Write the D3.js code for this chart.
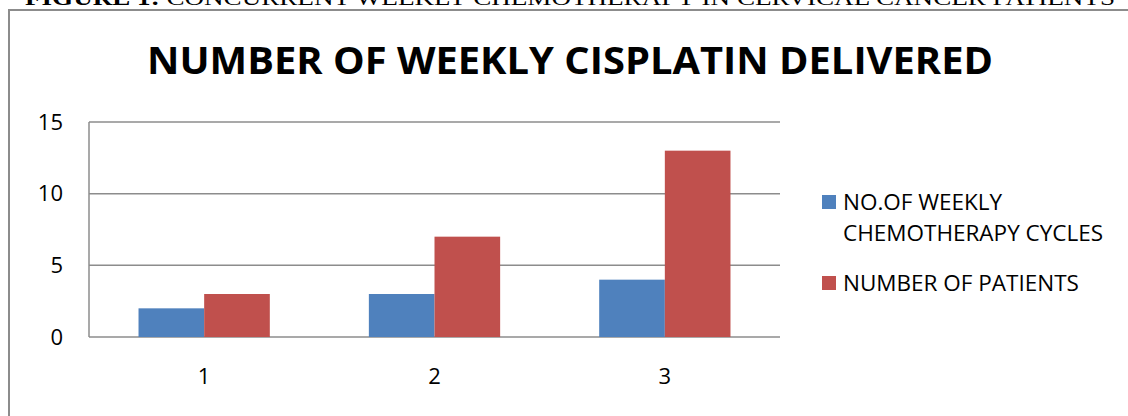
<!DOCTYPE html>
<html>
<head>
<meta charset="utf-8">
<script src="https://cdn.jsdelivr.net/npm/d3@7"></script>
<style>
  body { margin: 0; background: #fff; }
  svg { display: block; }
</style>
</head>
<body>
<div id="chart"></div>
<script>
// data
let categories = ["1", "2", "3"]
let seriesNames = ["NO.OF WEEKLY CHEMOTHERAPY CYCLES", "NUMBER OF PATIENTS"]
let cycles = [2, 3, 4]
let patients = [3, 7, 13]
let yTicks = [0, 5, 10, 15]
let colors = ["#4F81BD", "#C0504D"]

let W = 1128, H = 416
let margin = {top: 122, right: 348, bottom: 79, left: 89}
let width = W - margin.left - margin.right
let height = H - margin.top - margin.bottom

let svg = d3.select("#chart")
    .append("svg")
    .attr("width", W)
    .attr("height", H)

// caption above the frame (cut off at top)
let cap = svg.append("text")
    .attr("x", 25)
    .attr("y", 5)
    .attr("font-family", "Liberation Serif, Times New Roman, serif")
    .attr("font-size", 20)
    .attr("fill", "#000")
    .attr("textLength", 1090)
    .attr("lengthAdjust", "spacingAndGlyphs")
cap.append("tspan").attr("font-weight", "bold").text("FIGURE 1:")
cap.append("tspan").text(" CONCURRENT WEEKLY CHEMOTHERAPY IN CERVICAL CANCER PATIENTS")

// outer frame
svg.append("rect")
    .attr("x", 9)
    .attr("y", 10)
    .attr("width", 1140)
    .attr("height", 420)
    .attr("fill", "none")
    .attr("stroke", "#8c8c8c")
    .attr("stroke-width", 2)

// title
svg.append("text")
    .attr("x", 570)
    .attr("y", 74)
    .attr("text-anchor", "middle")
    .attr("font-family", "Open Sans, sans-serif")
    .attr("font-weight", "bold")
    .attr("font-size", 38)
    .attr("textLength", 846)
    .attr("lengthAdjust", "spacingAndGlyphs")
    .attr("fill", "#000")
    .text("NUMBER OF WEEKLY CISPLATIN DELIVERED")

let g = svg.append("g")
    .attr("transform", "translate(" + margin.left + "," + margin.top + ")")

let x = d3.scaleBand()
    .domain(categories)
    .range([0, width])
    .paddingInner(0.43)
    .paddingOuter(0.215)

let x1 = d3.scaleBand()
    .domain([0, 1])
    .range([0, x.bandwidth()])

let y = d3.scaleLinear()
    .domain([0, 15])
    .range([height, 0])

// gridlines
g.selectAll(".grid")
    .data(yTicks)
    .enter()
    .append("line")
    .attr("x1", 0)
    .attr("x2", width)
    .attr("y1", d => y(d))
    .attr("y2", d => y(d))
    .attr("stroke", "#8c8c8c")
    .attr("stroke-width", 1.5)

// y axis line
g.append("line")
    .attr("x1", 0).attr("x2", 0)
    .attr("y1", 0).attr("y2", height)
    .attr("stroke", "#8c8c8c")
    .attr("stroke-width", 1.5)

// y labels
let yAxis = g.append("g")
    .call(d3.axisLeft(y).tickValues(yTicks).tickSize(0).tickPadding(26))
yAxis.select(".domain").remove()
yAxis.selectAll("text")
    .attr("font-family", "Open Sans, sans-serif")
    .attr("font-size", 22)
    .attr("fill", "#000")

// x labels
let xAxis = g.append("g")
    .attr("transform", "translate(0," + height + ")")
    .call(d3.axisBottom(x).tickSize(0).tickPadding(31))
xAxis.select(".domain").remove()
xAxis.selectAll("text")
    .attr("font-family", "Open Sans, sans-serif")
    .attr("font-size", 22)
    .attr("fill", "#000")

// bars
let rows = categories.map((c, i) => ({cat: c, vals: [cycles[i], patients[i]]}))

g.selectAll(".grp")
    .data(rows)
    .enter()
    .append("g")
    .attr("transform", d => "translate(" + x(d.cat) + ",0)")
    .selectAll("rect")
    .data(d => d.vals.map((v, k) => ({k: k, v: v})))
    .enter()
    .append("rect")
    .attr("x", d => x1(d.k))
    .attr("width", x1.bandwidth())
    .attr("y", d => y(d.v))
    .attr("height", d => height - y(d.v))
    .attr("fill", d => colors[d.k])

// legend
let legend = svg.append("g").attr("font-family", "Open Sans, sans-serif").attr("font-size", 22.5)
let legLines = [["NO.OF WEEKLY", "CHEMOTHERAPY CYCLES"], ["NUMBER OF PATIENTS"]]
let legTop = [195, 276]
legLines.forEach((lines, i) => {
    legend.append("rect")
        .attr("x", 822)
        .attr("y", legTop[i])
        .attr("width", 14)
        .attr("height", 14)
        .attr("fill", colors[i])
    lines.forEach((t, j) => {
        legend.append("text")
            .attr("x", 843)
            .attr("y", legTop[i] + 15 + j * 31)
            .attr("fill", "#000")
            .text(t)
    })
})
</script>
</body>
</html>
